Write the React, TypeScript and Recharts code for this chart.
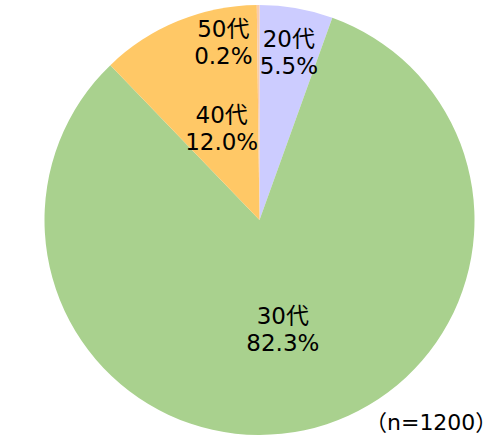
import { PieChart, Pie, Cell } from 'recharts';

const categories = ['20代', '30代', '40代', '50代'];
const shares = [5.5, 82.3, 12.0, 0.2];
const sampleNote = '（n=1200）';

const COLORS = ['#CCCCFF', '#A9D18E', '#FFC866', '#F8CBAD'];
// label distance as a fraction of the radius, and a small horizontal nudge
const LABEL_RADIUS = [0.795, 0.52, 0.463, 0.83];
const LABEL_DX = [0, 0, 0, -35];

const data = categories.map((name, i) => ({ name, value: shares[i] }));

const RADIAN = Math.PI / 180;
const FONT = "'DejaVu Sans', 'Noto Sans CJK JP', sans-serif";

interface customLabel {
    cx: number,
    cy: number,
    midAngle: number,
    outerRadius: number,
    index: number
}

const renderLabel = ({ cx, cy, midAngle, outerRadius, index }: customLabel) => {
    const r = outerRadius * LABEL_RADIUS[index];
    const x = cx + r * Math.cos(-midAngle * RADIAN) + LABEL_DX[index];
    const y = cy + r * Math.sin(-midAngle * RADIAN);
    return (
        <g>
            <text x={x} y={y - 5} fill="#000" textAnchor="middle" fontSize={23} fontFamily={FONT}>
                {categories[index]}
            </text>
            <text x={x} y={y + 22} fill="#000" textAnchor="middle" fontSize={23} fontFamily={FONT}>
                {shares[index].toFixed(1)}%
            </text>
        </g>
    );
};

export default function App() {
    return (
        <div style={{ position: 'absolute', left: 0, top: 0, width: 500, height: 444, background: '#fff' }}>
            <PieChart width={500} height={444} margin={{ top: 0, right: 0, bottom: 0, left: 0 }}>
                <Pie
                    data={data}
                    cx={259.5}
                    cy={220}
                    outerRadius={215}
                    startAngle={90}
                    endAngle={-270}
                    dataKey="value"
                    stroke="none"
                    labelLine={false}
                    label={renderLabel}
                    isAnimationActive={false}
                >
                    {data.map((_entry, index) => (
                        <Cell key={`cell-${index}`} fill={COLORS[index % COLORS.length]} />
                    ))}
                </Pie>
                <text x={365} y={430} textAnchor="start" fontSize={22} fill="#000" fontFamily={FONT}>
                    {sampleNote}
                </text>
            </PieChart>
        </div>
    );
}
